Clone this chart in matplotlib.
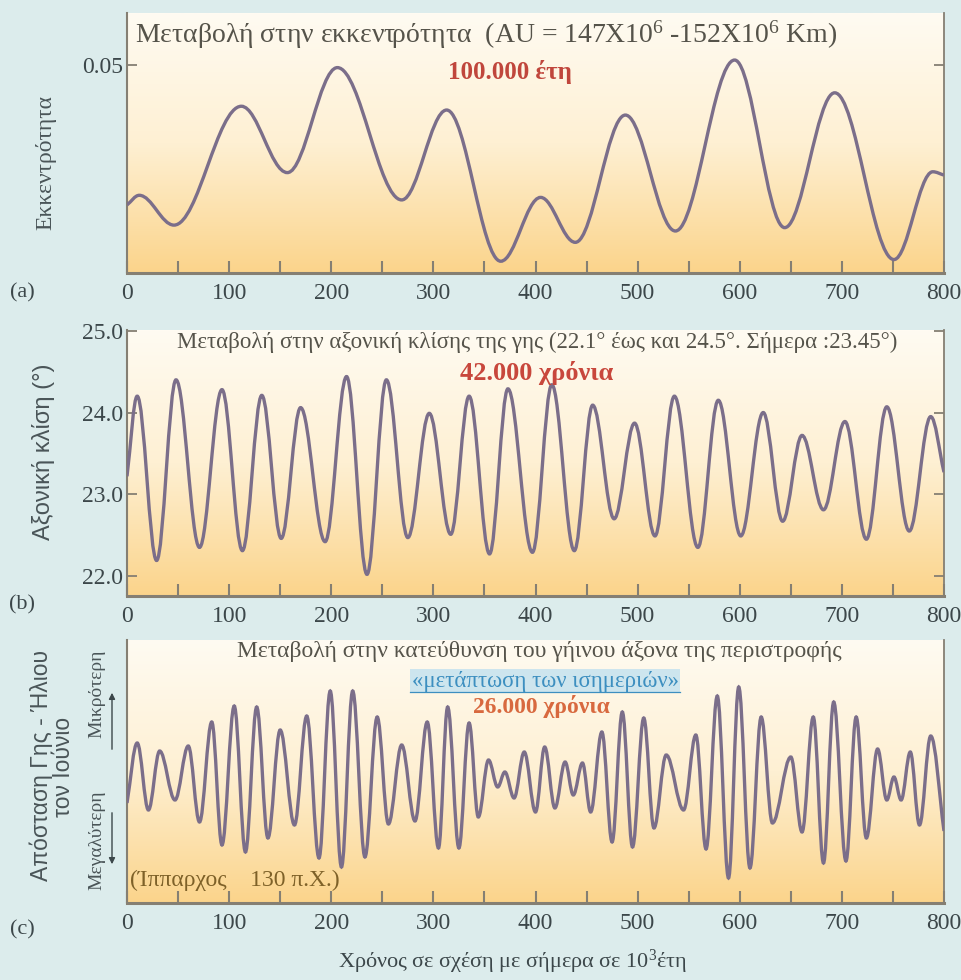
import matplotlib
matplotlib.use("Agg")
import matplotlib.pyplot as plt
import numpy as np
from matplotlib.path import Path
from matplotlib.patches import PathPatch
from matplotlib.colors import LinearSegmentedColormap
from matplotlib.ticker import MultipleLocator, FixedLocator

plt.rcParams['font.family'] = ['Liberation Serif', 'DejaVu Serif']
plt.rcParams['mathtext.fontset'] = 'custom'
plt.rcParams['mathtext.rm'] = 'Liberation Serif'
plt.rcParams['mathtext.it'] = 'Liberation Serif:italic'

# (a) eccentricity: turning points (x in 10^3 years)
ecc_x = [0, 12, 46, 112, 157, 206, 269, 313, 366, 405, 439, 488, 537, 595, 644, 693, 751, 789, 800]
ecc_y = [0.0167, 0.0190, 0.0119, 0.0402, 0.0244, 0.0494, 0.0179, 0.0393, 0.0033, 0.0185,
         0.0078, 0.0381, 0.0105, 0.0512, 0.0113, 0.0434, 0.0037, 0.0246, 0.0238]

# (b) obliquity in degrees
obl_x = [0, 10, 29, 48, 71, 93, 113, 132, 151, 170, 194, 215, 235, 254, 275, 296, 317, 335, 355, 373,
         397, 416, 438, 456, 477, 497, 517, 536, 559, 579, 601, 623, 642, 661, 682, 703, 724, 744, 766, 787, 800]
obl_y = [23.22, 24.20, 22.19, 24.40, 22.35, 24.28, 22.31, 24.21, 22.46, 24.06,
         22.42, 24.44, 22.02, 24.40, 22.47, 23.99, 22.51, 24.20, 22.27, 24.29,
         22.29, 24.34, 22.31, 24.09, 22.70, 23.87, 22.49, 24.20, 22.35, 24.15,
         22.49, 24.00, 22.67, 23.72, 22.81, 23.89, 22.45, 24.07, 22.55, 23.95, 23.27]

# (c) precession, relative units
prec_x = [0, 10, 21, 32, 47, 60, 71, 83, 93, 105, 116, 127, 138, 150, 164, 176, 188, 199, 210, 221,
          233, 245, 256, 269, 282, 294, 305, 314, 325, 335, 344, 354, 363, 370, 379, 389, 400, 409, 419, 429,
          437, 446, 454, 465, 475, 485, 495, 506, 516, 528, 545, 557, 567, 578, 589, 599, 610, 621, 632, 650,
          661, 672, 682, 692, 704, 714, 724, 735, 744, 751, 758, 767, 776, 787, 800]
prec_y = [-0.33, 0.27, -0.40, 0.19, -0.30, 0.24, -0.52, 0.48, -0.75, 0.64,
          -0.82, 0.63, -0.68, 0.40, -0.55, 0.54, -0.88, 0.79, -0.97, 0.79,
          -0.87, 0.53, -0.54, 0.25, -0.51, 0.48, -0.78, 0.63, -0.78, 0.47,
          -0.47, 0.10, -0.17, -0.02, -0.28, 0.18, -0.42, 0.23, -0.38, 0.08,
          -0.25, 0.07, -0.42, 0.38, -0.72, 0.58, -0.77, 0.52, -0.58, 0.15,
          -0.40, 0.35, -0.79, 0.74, -1.08, 0.83, -0.98, 0.53, -0.53, 0.13,
          -0.62, 0.53, -0.93, 0.68, -0.91, 0.53, -0.68, 0.21, -0.30, -0.07,
          -0.30, 0.18, -0.55, 0.34, -0.61]

x_major = [0, 100, 200, 300, 400, 500, 600, 700, 800]

W, H = 961, 980
BG = '#dcecec'
LINE = '#7b6e8a'
SPINE = '#857f73'
TXT = '#3c474a'
TITLE = '#55534a'


def fx(px):
    return px / W


def fy(py):
    return 1 - py / H


def smooth_path(xs, ys, k=0.363):
    """cubic bezier through the turning points, flat tangents at the extrema"""
    n = len(xs)
    slopes = [0.0] * n
    slopes[0] = (ys[1] - ys[0]) / (xs[1] - xs[0])
    slopes[-1] = (ys[-1] - ys[-2]) / (xs[-1] - xs[-2])
    verts = [(xs[0], ys[0])]
    codes = [Path.MOVETO]
    for i in range(n - 1):
        dx = xs[i + 1] - xs[i]
        verts += [(xs[i] + k * dx, ys[i] + slopes[i] * k * dx),
                  (xs[i + 1] - k * dx, ys[i + 1] - slopes[i + 1] * k * dx),
                  (xs[i + 1], ys[i + 1])]
        codes += [Path.CURVE4] * 3
    return Path(verts, codes)


def make_panel(fig, top, bottom, ylim):
    ax = fig.add_axes([fx(127), fy(bottom), fx(944) - fx(127), fy(top) - fy(bottom)])
    cmap = LinearSegmentedColormap.from_list('bg', ['#fffbf2', '#fef0d3', '#fbd48b'])
    ax.imshow(np.linspace(0, 1, 256).reshape(-1, 1), extent=(0, 800, ylim[0], ylim[1]),
              aspect='auto', cmap=cmap, origin='upper', zorder=0)
    ax.set_xlim(0, 800)
    ax.set_ylim(*ylim)
    ax.spines['top'].set_visible(False)
    ax.spines['left'].set_color(SPINE)
    ax.spines['left'].set_linewidth(1.5)
    ax.spines['right'].set_color(SPINE)
    ax.spines['right'].set_linewidth(1.3)
    ax.spines['bottom'].set_color(SPINE)
    ax.spines['bottom'].set_linewidth(2.2)
    ax.xaxis.set_major_locator(FixedLocator(x_major))
    ax.xaxis.set_minor_locator(MultipleLocator(50))
    ax.tick_params(axis='x', which='both', direction='in', length=9, width=1.5,
                   color=SPINE, labelsize=17, labelcolor=TXT, pad=7)
    ax.tick_params(axis='y', which='both', direction='in', length=7, width=1.3,
                   color=SPINE, labelsize=17, labelcolor=TXT, right=True, pad=3)
    return ax


fig = plt.figure(figsize=(W / 100, H / 100), dpi=100)
fig.patch.set_facecolor(BG)

# ---- (a) eccentricity
ax_a = make_panel(fig, 13, 273, (0.0005, 0.0624))
ax_a.add_patch(PathPatch(smooth_path(ecc_x, ecc_y), fill=False, edgecolor=LINE, lw=2.4, zorder=3))
ax_a.set_yticks([0.05])
ax_a.set_yticklabels(['0.05'])

# ---- (b) obliquity
ax_b = make_panel(fig, 330, 596, (21.755, 25.01))
ax_b.add_patch(PathPatch(smooth_path(obl_x, obl_y), fill=False, edgecolor=LINE, lw=2.4, zorder=3))
ax_b.set_yticks([22.0, 23.0, 24.0, 25.0])
ax_b.set_yticklabels(['22.0', '23.0', '24.0', '25.0'])

# ---- (c) precession
ax_c = make_panel(fig, 640, 903, (-1.33, 1.30))
ax_c.add_patch(PathPatch(smooth_path(prec_x, prec_y), fill=False, edgecolor=LINE, lw=2.4, zorder=3))
ax_c.set_yticks([])
ax_c.tick_params(axis='y', right=False, left=False)

# titles inside the panels
fig.text(fx(486), fy(35), 'Μεταβολή στην εκκεντρότητα  (AU = 147X10$^{6}$ -152X10$^{6}$ Km)',
         ha='center', va='center', fontsize=20, color=TITLE)
fig.text(fx(510), fy(72), '100.000 έτη', ha='center', va='center', fontsize=18,
         color='#c0463c', weight='bold')

fig.text(fx(537), fy(342), 'Μεταβολή στην αξονική κλίσης της γης (22.1° έως και 24.5°. Σήμερα :23.45°)',
         ha='center', va='center', fontsize=16.5, color=TITLE)
fig.text(fx(537), fy(373), '42.000 χρόνια', ha='center', va='center', fontsize=19,
         color='#c8473c', weight='bold')

fig.text(fx(539), fy(652), 'Μεταβολή στην κατεύθυνση του γήινου άξονα της περιστροφής',
         ha='center', va='center', fontsize=17, color=TITLE)
fig.text(fx(545), fy(681), '«μετάπτωση των ισημεριών»', ha='center', va='center', fontsize=16.5,
         color='#3d8fc0', bbox=dict(facecolor='#cde5ee', edgecolor='none', pad=1.0))
fig.add_artist(plt.Line2D([fx(410), fx(680)], [fy(692), fy(692)], color='#3d8fc0', lw=0.9,
                          zorder=5))
fig.text(fx(541), fy(706), '26.000 χρόνια', ha='center', va='center', fontsize=17,
         color='#d8693f', weight='bold')
fig.text(fx(130), fy(880), '(Ίππαρχος    130 π.Χ.)', ha='left', va='center', fontsize=17,
         color='#7e6128')

# axis labels
fig.text(fx(46), fy(162), 'Εκκεντρότητα', rotation=90, ha='center', va='center',
         fontsize=17, color='#4a5558')
fig.text(fx(44), fy(452), 'Αξονική κλίση (°)', rotation=90, ha='center', va='center',
         fontsize=17, color='#4a5558', family=['Liberation Sans', 'DejaVu Sans'])
fig.text(fx(41), fy(765), 'Απόσταση Γης - Ήλιου', rotation=90, ha='center', va='center',
         fontsize=16.5, color='#4a5558', family=['Liberation Sans', 'DejaVu Sans'])
fig.text(fx(64), fy(767), 'τον Ιούνιο', rotation=90, ha='center', va='center',
         fontsize=16.5, color='#4a5558', family=['Liberation Sans', 'DejaVu Sans'])
fig.text(fx(97), fy(694), 'Μικρότερη', rotation=90, ha='center', va='center',
         fontsize=14, color='#4a5558')
fig.text(fx(97), fy(840), 'Μεγαλύτερη', rotation=90, ha='center', va='center',
         fontsize=14, color='#4a5558')
fig.add_artist(plt.Annotation('', xy=(fx(112), fy(690)), xytext=(fx(112), fy(752)),
                              xycoords='figure fraction', textcoords='figure fraction',
                              arrowprops=dict(arrowstyle='-|>', color='#3c474a', lw=1.0,
                                              mutation_scale=9)))
fig.add_artist(plt.Annotation('', xy=(fx(112), fy(867)), xytext=(fx(112), fy(810)),
                              xycoords='figure fraction', textcoords='figure fraction',
                              arrowprops=dict(arrowstyle='-|>', color='#3c474a', lw=1.0,
                                              mutation_scale=9)))

for lab, py in [('(a)', 293), ('(b)', 605), ('(c)', 930)]:
    fig.text(fx(22), fy(py), lab, ha='center', va='center', fontsize=16, color=TXT)

fig.text(fx(513), fy(962), 'Χρόνος σε σχέση με σήμερα σε 10$^{3}$έτη', ha='center', va='center',
         fontsize=16, color=TXT)

fig.savefig('out.png', dpi=100, facecolor=fig.get_facecolor())
